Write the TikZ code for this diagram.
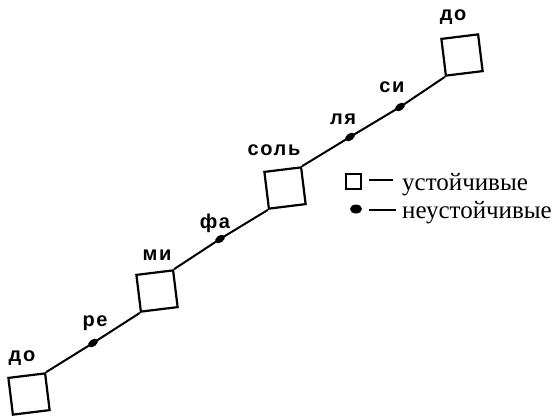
\documentclass[tikz,border=0pt]{standalone}
\usetikzlibrary{shapes.geometric}
\usepackage{fontspec}
\setmainfont{Liberation Serif}
\newfontfamily\lab[LetterSpace=8]{Liberation Sans}
\begin{document}
\begin{tikzpicture}[x=1pt,y=-1pt,
  stable/.style={draw,line width=2.2pt,minimum size=37pt,inner sep=0pt,rotate=7},
  unst/.style={fill,ellipse,minimum width=11pt,minimum height=7pt,inner sep=0pt,rotate=35},
  lbl/.style={font=\lab\bfseries\fontsize{20}{20}\selectfont,inner sep=0pt},
  leg/.style={font=\fontsize{25}{25}\selectfont,anchor=base west,inner sep=0pt},
  conn/.style={line width=2pt}]
\useasboundingbox (0,0) rectangle (556,416);
\node[stable] (s1) at (29,394) {};
\node[stable] (s2) at (157,291) {};
\node[stable] (s3) at (285,188) {};
\node[stable] (s4) at (462,55) {};
\node[unst] (re) at (93,343) {};
\node[unst] (fa) at (220,239) {};
\node[unst] (la) at (350,137) {};
\node[unst] (si) at (400,107) {};
\draw[conn] (s1.north east) -- (re.center) -- (s2.south west);
\draw[conn] (s2.north east) -- (fa.center) -- (s3.south west);
\draw[conn] (s3.north east) -- (la.center) -- (si.center) -- (s4.south west);
\node[lbl] (l1) at (22,358) {до};
\node[lbl] (l2) at (95,323) {ре};
\node[lbl] (l3) at (157,255) {ми};
\node[lbl] (l4) at (215,223) {фа};
\node[lbl] (l5) at (274,150) {соль};
\node[lbl] (l6) at (343,119) {ля};
\node[lbl] (l7) at (392,87) {си};
\node[lbl] (l8) at (453,17) {до};
% legend
\node[draw,line width=2.2pt,minimum size=15pt,inner sep=0pt] (ls) at (353.5,181.5) {};
\coordinate (ld1) at (369,180);
\coordinate (ld2) at (393,180);
\draw[line width=1.6pt] (ld1) -- (ld2);
\node[leg] (lt1) at (402,190) {устойчивые};
\node[unst,rotate=-35,minimum width=12pt,minimum height=9pt] (lp) at (356,209) {};
\coordinate (le1) at (369,210);
\coordinate (le2) at (396,210);
\draw[line width=1.6pt] (le1) -- (le2);
\node[leg] (lt2) at (402,218) {неустойчивые};
\end{tikzpicture}
\end{document}
